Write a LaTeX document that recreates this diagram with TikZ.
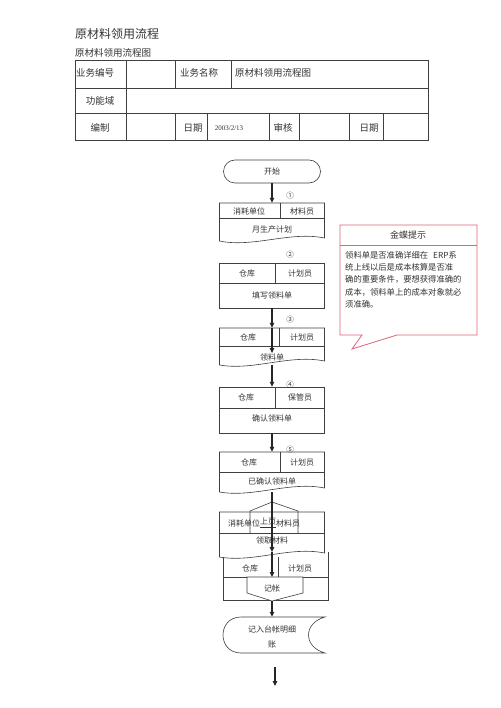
\documentclass[tikz,border=0pt]{standalone}
\usepackage{fontspec}
\setmainfont{Liberation Serif}
\newfontfamily\cjk{Noto Sans CJK SC}
\usetikzlibrary{arrows.meta}
\definecolor{tipred}{RGB}{226,98,118}

\begin{document}
\begin{tikzpicture}[x=1pt, y=-1pt,
	txt/.style={inner sep=0pt, text=black!80, font=\cjk\fontsize{8}{10}\selectfont},
	tab/.style={txt, font=\cjk\fontsize{9.5}{11}\selectfont},
	num/.style={txt, font=\cjk\fontsize{7.5}{8}\selectfont},
	line/.style={draw=black!75, line width=0.6pt},
	frame/.style={inner sep=0pt, minimum width=105pt},
	flow/.style={-{Triangle[length=5pt, width=4.5pt]}, line width=1.1pt, black!85},
	tipline/.style={draw=tipred, line width=0.8pt}]
	\useasboundingbox (0,0) rectangle (500,708);
	\fill[white] (0,0) rectangle (500,708);
	% heading and form
	\node [txt, font=\cjk\fontsize{12}{14}\selectfont, anchor=west] (title) at (75,34) {原材料领用流程};
	\node [txt, font=\cjk\fontsize{9.5}{11}\selectfont, anchor=west] (subtitle) at (75,53) {原材料领用流程图};
	\draw [line] (75,60) rectangle (428,140);
	\draw [line] (75,88) -- (428,88) (75,113) -- (428,113);
	\draw [line] (126,60) -- (126,140) (175,60) -- (175,88) (231,60) -- (231,88);
	\foreach \x in {175,207,269,299,349,383} \draw [line] (\x,113) -- (\x,140);
	\node [tab] (c11) at (95,73) {业务编号};
	\node [tab] (c13) at (199,73) {业务名称};
	\node [tab, anchor=west] (c14) at (235,73) {原材料领用流程图};
	\node [tab] (c21) at (100,101) {功能域};
	\node [tab] (c31) at (100,128) {编制};
	\node [tab] (c33) at (193,128) {日期};
	\node [txt, font=\fontsize{7}{8}\selectfont] (c34) at (229,128) {2003/2/13};
	\node [tab] (c35) at (283,128) {审核};
	\node [tab] (c37) at (369,128) {日期};
	% start
	\node [line, txt, rounded corners=11.5pt, minimum width=97pt, minimum height=23pt] (start) at (272,171.5) {开始};
	% box 1
	\node [frame, minimum height=39pt] (b1) at (272,222.5) {};
	\draw [line] (219.5,203) -- (324.5,203) -- (324.5,238) .. controls (290,231) and (253,248) .. (219.5,241) -- cycle;
	\draw [line] (219.5,218) -- (324.5,218) (280,203) -- (280,218);
	\node [txt] (b1a) at (249,211) {消耗单位};
	\node [txt] (b1b) at (302,211) {材料员};
	\node [txt] (b1c) at (272,229) {月生产计划};
	% box 2
	\node [frame, minimum height=45pt] (b2) at (272,285.5) {};
	\draw [line] (219.5,263) rectangle (324.5,308);
	\draw [line] (219.5,283) -- (324.5,283) (275,263) -- (275,283);
	\node [txt] (b2a) at (247,273) {仓库};
	\node [txt] (b2b) at (300,273) {计划员};
	\node [txt] (b2c) at (272,295) {填写领料单};
	% box 3
	\node [frame, minimum height=37pt] (b3) at (272,346.5) {};
	\draw [line] (219.5,328) -- (324.5,328) -- (324.5,361) .. controls (290,354) and (253,371) .. (219.5,365) -- cycle;
	\draw [line] (219.5,346) -- (324.5,346) (279,328) -- (279,346);
	\node [txt] (b3a) at (248,337) {仓库};
	\node [txt] (b3b) at (302,337) {计划员};
	\node [txt] (b3c) at (272,357) {领料单};
	% box 4
	\node [frame, minimum height=46pt] (b4) at (272,410) {};
	\draw [line] (219.5,387) rectangle (324.5,433);
	\draw [line] (219.5,408) -- (324.5,408) (275,387) -- (275,408);
	\node [txt] (b4a) at (246,397) {仓库};
	\node [txt] (b4b) at (300,397) {保管员};
	\node [txt] (b4c) at (272,418) {确认领料单};
	% box 5
	\node [frame, minimum height=40pt] (b5) at (272,472) {};
	\draw [line] (219.5,452) -- (324.5,452) -- (324.5,488) .. controls (290,481) and (253,498) .. (219.5,492) -- cycle;
	\draw [line] (219.5,472) -- (324.5,472) (280,452) -- (280,472);
	\node [txt] (b5a) at (249,462) {仓库};
	\node [txt] (b5b) at (302,462) {计划员};
	\node [txt] (b5c) at (272,481) {已确认领料单};
	% box 6 with connector from previous page
	\draw [line] (219.5,512) -- (324.5,512) -- (324.5,553) .. controls (290,546) and (253,563) .. (219.5,557) -- cycle;
	\draw [line] (219.5,533) -- (324.5,533);
	\draw [line] (250,533) -- (250,511) -- (272,502) -- (298,511) -- (298,533);
	\coordinate (pu) at (272,502);
	\node [txt] (b6a) at (244,523) {消耗单位};
	\node [txt] (b6p) at (268,523) {\underline{上页}};
	\node [txt] (b6b) at (288,523) {材料员};
	\node [txt] (b6c) at (272,540) {领取材料};
	\coordinate (b6in) at (272,552);
	% box 7 with connector to next page
	\draw [line] (223,557) -- (223,600) -- (328,600) -- (328,552);
	\draw [line] (223,577) -- (328,577) (278,557) -- (278,577);
	\node [txt] (b7a) at (250,568) {仓库};
	\node [txt] (b7b) at (300,568) {计划员};
	\draw [line, fill=white] (247,577) -- (303,577) -- (303,593) -- (272,601) -- (247,593) -- cycle;
	\coordinate (pd) at (272,577);
	\coordinate (pdb) at (272,601);
	\node [txt] (b7c) at (272,588) {记帐};
	% ledger
	\node [frame, minimum width=102pt, minimum height=36pt] (acc) at (274,635) {};
	\draw [line] (241,617) -- (325,617) .. controls (303,623) and (303,647) .. (325,653) -- (241,653) .. controls (217,653) and (217,617) .. (241,617) -- cycle;
	\node [txt, align=center, font=\cjk\fontsize{8}{15}\selectfont] (acct) at (272,637) {记入台帐明细\\账};
	\coordinate (endA) at (275,667);
	\coordinate (endB) at (275,686);
	% arrows
	\draw [flow] (start.south) -- (start.south |- b1.north);
	\draw [flow] (b2.south) -- (b3.north);
	\draw [flow] (b3.north) -- (b3c.north);
	\draw [flow] (b3.south) -- (b4.north);
	\draw [flow] (b4.south) -- (b5.north);
	\draw [flow, -] (b5.south) -- (pu);
	\draw [flow] (pu) -- (b6in);
	\draw [flow] (b6in) -- (pd);
	\draw [flow] (pdb) -- (pdb |- acc.north);
	\draw [flow] (endA) -- (endB);
	% step numbers
	\foreach \n/\y in {1/196,2/255,3/320,4/385,5/450}
		\node [num] (s\n) at (290,\y) {\ifcase\n\or ①\or ②\or ③\or ④\or ⑤\fi};
	% hint box
	\draw [tipline, fill=white] (340,225) -- (477,225) -- (477,335) -- (397,335) -- (352,349) -- (362,335) -- (340,335) -- cycle;
	\draw [tipline] (340,245) -- (477,245);
	\node [txt, font=\cjk\fontsize{9}{11}\selectfont] (tiptitle) at (408,235) {金蝶提示};
	\node [txt, anchor=north west, align=left, font=\cjk\fontsize{8.3}{12.3}\selectfont] (tiptext) at (345,251)
		{领料单是否准确详细在\hspace{5pt}ERP系\\统上线以后是成本核算是否准\\确的重要条件，要想获得准确的\\成本，领料单上的成本对象就必\\须准确。};
\end{tikzpicture}
\end{document}
